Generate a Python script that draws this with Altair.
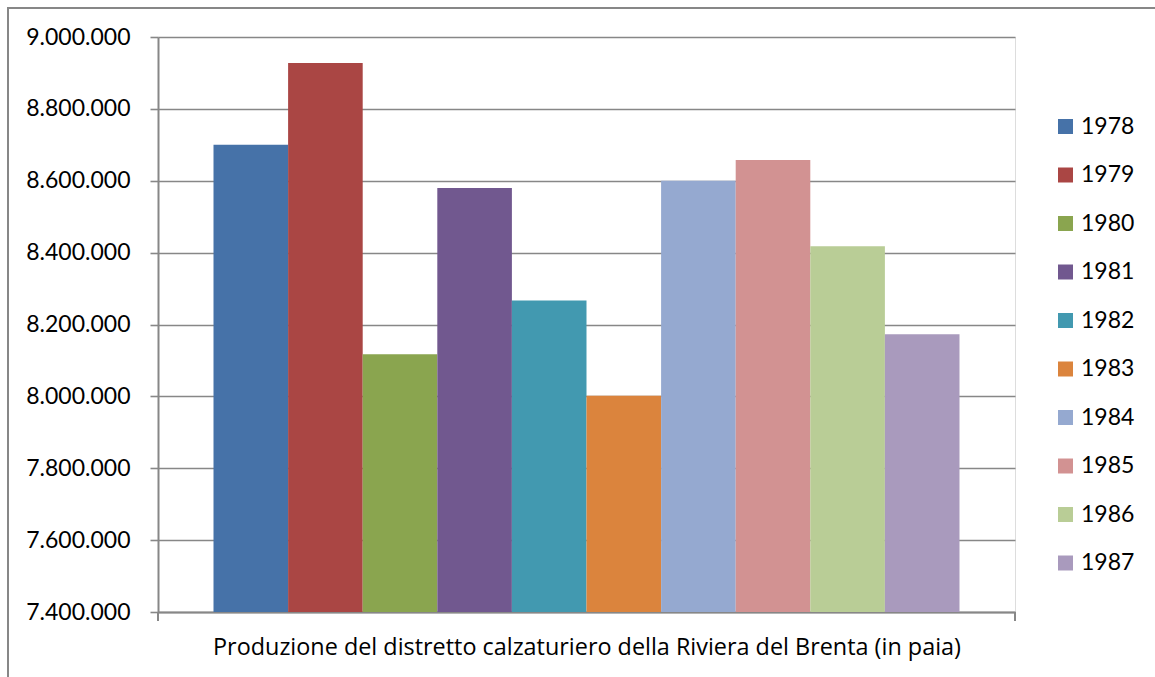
import altair as alt
import pandas as pd

# Annual shoe production of the Riviera del Brenta district (pairs)
years = ["1978", "1979", "1980", "1981", "1982", "1983", "1984", "1985", "1986", "1987"]
production = [8700000, 8928000, 8117000, 8580000, 8267000, 8002000, 8600000, 8658000, 8418000, 8173000]
colors = ["#4672A8", "#AA4644", "#8AA54F", "#71588F", "#4299B0",
          "#DB843D", "#95A9D0", "#D29292", "#B9CD96", "#A99ABD"]
y_ticks = [7400000, 7600000, 7800000, 8000000, 8200000, 8400000, 8600000, 8800000, 9000000]
x_title = "Produzione del distretto calzaturiero della Riviera del Brenta (in paia)"

W, H = 857, 575
GRAY = "#878787"
FONT = "Lato"

df = pd.DataFrame({"year": years, "production": production})

bars = alt.Chart(df).mark_bar(opacity=1).encode(
    x=alt.X(
        "year:N",
        sort=years,
        scale=alt.Scale(paddingInner=0, paddingOuter=0.744),
        axis=alt.Axis(
            title=x_title, labels=False, ticks=False,
            domainColor=GRAY, domainWidth=2,
            titleFont="Open Sans", titleFontSize=23.4, titleFontWeight="normal",
            titleColor="#000000", titlePadding=24,
        ),
    ),
    y=alt.Y(
        "production:Q",
        scale=alt.Scale(domain=[7400000, 9000000], nice=False, zero=False),
        axis=alt.Axis(
            title=None, values=y_ticks, grid=True,
            gridColor=GRAY, gridWidth=1.6,
            domainColor=GRAY, domainWidth=2,
            tickColor=GRAY, tickSize=8, tickWidth=1.6,
            labelFont=FONT, labelFontSize=23, labelColor="#000000",
            labelPadding=20,
            labelExpr="replace(replace(format(datum.value, ','), ',', '.'), ',', '.')",
        ),
    ),
    y2=alt.datum(7400000),
    color=alt.Color(
        "year:N",
        scale=alt.Scale(domain=years, range=colors),
        legend=alt.Legend(
            title=None, orient="none", legendX=896, legendY=78,
            symbolType="square", symbolSize=225, symbolStrokeWidth=0,
            labelFont=FONT, labelFontSize=23, labelColor="#000000",
            labelOffset=4, rowPadding=24.5, padding=0,
        ),
    ),
)

one = pd.DataFrame({"k": [0]})

# small end ticks on the category axis
left_tick = alt.Chart(one).mark_rule(color=GRAY, strokeWidth=2).encode(
    x=alt.value(0), y=alt.value(H), y2=alt.value(H + 9)
)
right_tick = alt.Chart(one).mark_rule(color=GRAY, strokeWidth=2).encode(
    x=alt.value(W), y=alt.value(H), y2=alt.value(H + 9)
)

# outer chart frame
frame = alt.Chart(one).mark_rect(fill="transparent", stroke=GRAY, strokeWidth=2).encode(
    x=alt.value(-150), x2=alt.value(W + 200), y=alt.value(-29), y2=alt.value(H + 200)
)

chart = alt.layer(frame, bars, left_tick, right_tick).properties(
    width=W,
    height=H,
    padding={"left": 158, "top": 37, "right": 140, "bottom": 65},
    autosize=alt.AutoSizeParams(type="none"),
).configure_view(stroke=None).configure(font=FONT)

chart.save("out.html", embed_options={"renderer": "svg", "actions": False})
